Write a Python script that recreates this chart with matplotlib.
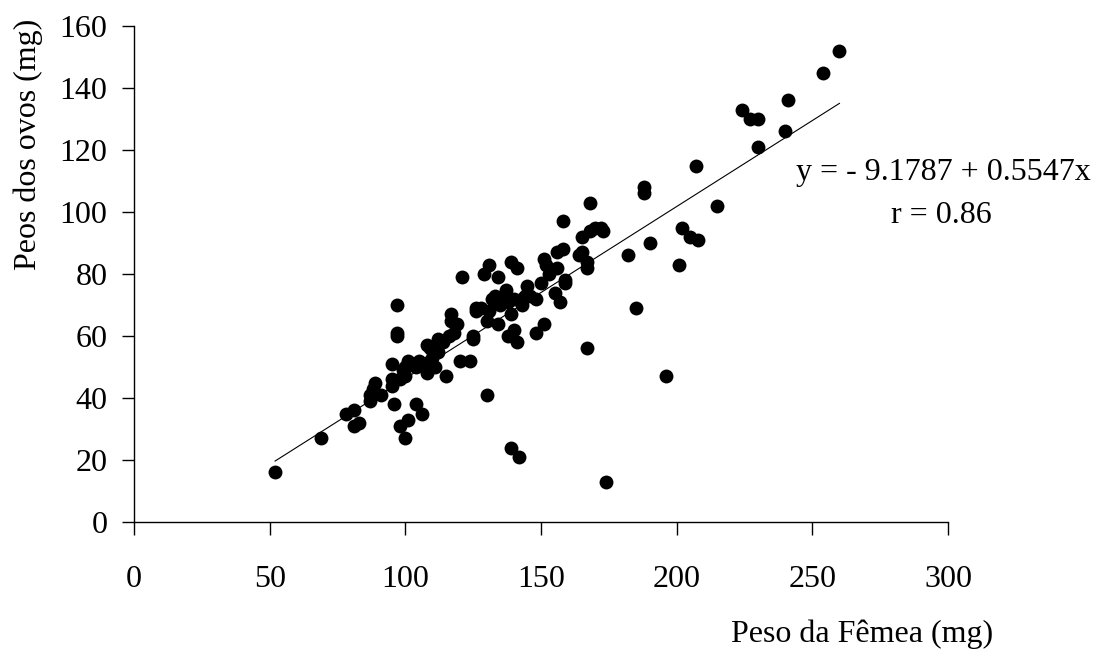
import matplotlib
matplotlib.use("Agg")
import matplotlib.pyplot as plt
import numpy as np

# peso da fêmea (mg) e peso dos ovos (mg)
peso_femea = [52, 69, 78, 81, 81, 83,
              87, 87, 88, 89, 91,
              95, 95, 95, 96, 97, 97, 97, 98, 98, 99, 100, 100, 100, 101, 101, 102, 103, 104, 104, 105, 106,
              107, 108, 108, 109, 109, 110, 111, 112, 112, 114, 115, 116, 117, 117, 118, 119, 120, 121,
              124, 125, 125, 126, 126, 128, 129, 130, 130, 131, 131, 132, 133, 134, 134, 135, 136, 137, 137,
              138, 138, 139, 139, 139, 140, 140, 141, 141, 142, 143, 143, 144, 145, 146, 148, 148,
              150, 151, 151, 152, 153, 155, 156, 156, 157, 158, 158, 159, 159,
              164, 165, 165, 167, 167, 167, 168, 168, 170, 172, 173, 174,
              182, 185, 188, 188, 190, 196, 201, 202, 205, 207, 208, 215,
              224, 227, 230, 230, 240, 241, 254, 260]
peso_ovos = [16, 27, 35, 36, 31, 32,
             39, 41, 43, 45, 41,
             44, 46, 51, 38, 70, 61, 60, 31, 46, 49, 50, 47, 27, 33, 52, 51, 51, 38, 50, 52, 35,
             51, 57, 48, 52, 56, 53, 50, 55, 59, 58, 47, 60, 67, 65, 61, 64, 52, 79,
             52, 60, 59, 69, 68, 69, 80, 65, 41, 83, 68, 72, 73, 79, 64, 70, 72, 75, 73,
             71, 60, 24, 84, 67, 62, 72, 58, 82, 21, 70, 72, 73, 76, 73, 61, 72,
             77, 85, 64, 83, 80, 74, 82, 87, 71, 97, 88, 78, 77,
             86, 92, 87, 82, 84, 56, 94, 103, 95, 95, 94, 13,
             86, 69, 106, 108, 90, 47, 83, 95, 92, 115, 91, 102,
             133, 130, 130, 121, 126, 136, 145, 152]

# reta de regressão
a, b = -9.1787, 0.5547
r = 0.86

plt.rcParams['font.family'] = ['Liberation Serif', 'DejaVu Serif']
fs = 23

fig = plt.figure(figsize=(10.93, 6.5), dpi=100)
ax = fig.add_axes([0.1226, 0.1969, 0.7447, 0.7631])

ax.scatter(peso_femea, peso_ovos, s=100, c='black', linewidths=0, zorder=3)
xr = np.array([min(peso_femea), max(peso_femea)])
ax.plot(xr, a + b * xr, color='black', linewidth=0.8, zorder=2)

ax.set_xlim(0, 300)
ax.set_ylim(0, 160)
ax.set_xticks(np.arange(0, 301, 50))
ax.set_yticks(np.arange(0, 161, 20))
ax.spines['top'].set_visible(False)
ax.spines['right'].set_visible(False)
ax.spines['left'].set_linewidth(1.0)
ax.spines['bottom'].set_linewidth(1.0)
ax.tick_params(axis='x', direction='out', length=9, width=1, pad=22, labelsize=fs)
ax.tick_params(axis='y', direction='out', length=9, width=1, pad=10, labelsize=fs)

fig.text(0.026, 0.778, 'Peos dos ovos (mg)', rotation=90, ha='center', va='center', fontsize=fs)
fig.text(0.789, 0.024, 'Peso da Fêmea (mg)', ha='center', va='center', fontsize=fs)

fig.text(0.863, 0.735, 'y = - 9.1787 + 0.5547x', ha='center', va='center', fontsize=fs)
fig.text(0.861, 0.669, f'r = {r}', ha='center', va='center', fontsize=fs)

fig.savefig('out.png', dpi=100)
